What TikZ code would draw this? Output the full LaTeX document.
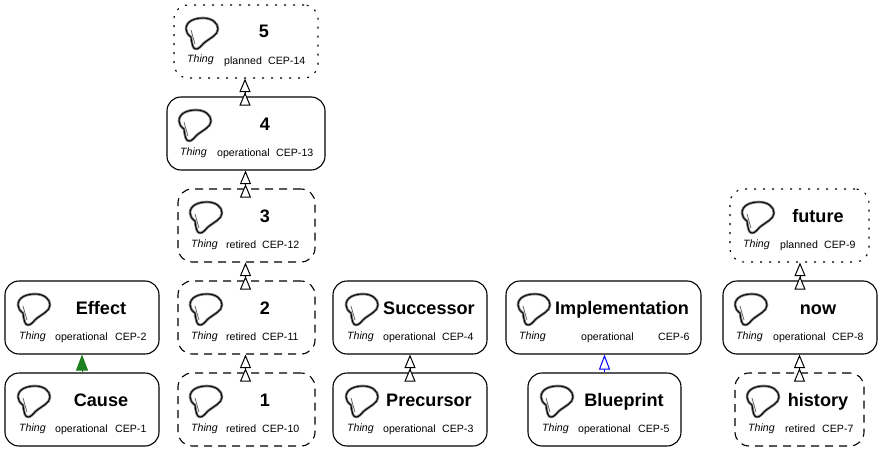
\documentclass[tikz,border=0pt]{standalone}
\usepackage{fontspec}
\setmainfont{Liberation Sans}
\usetikzlibrary{arrows.meta}
\definecolor{linkgreen}{RGB}{28,128,28}
\tikzset{
  cepbox/.style={draw=black,line width=1.1pt,rounded corners=14pt,inner sep=0pt,fill=none},
  solidbox/.style={cepbox},
  dashbox/.style={cepbox,dash pattern=on 8pt off 6pt},
  dotbox/.style={cepbox,dash pattern=on 2pt off 7pt},
  titletext/.style={inner sep=0pt,anchor=base,font=\fontsize{18.1}{20}\selectfont\bfseries},
  smalltext/.style={inner sep=0pt,anchor=base west,font=\fontsize{10.6}{12}\selectfont},
  kindtext/.style={smalltext,font=\fontsize{10.6}{12}\selectfont\itshape},
  bubble/.pic={
    \path[draw=black!50,line width=2.6pt,line join=round]
      (0,11) .. controls (0,3) and (9,0) .. (17,0) .. controls (26,0) and (32,5) .. (32,11)
      .. controls (32,17) and (24,20) .. (18,25) .. controls (15,28) and (13,31) .. (10,31)
      .. controls (7,31) and (6,27) .. (5,19) .. controls (2,17) and (0,14) .. (0,11) -- cycle;
    \path[draw=black,line width=.9pt,line join=round]
      (0,11) .. controls (0,3) and (9,0) .. (17,0) .. controls (26,0) and (32,5) .. (32,11)
      .. controls (32,17) and (24,20) .. (18,25) .. controls (15,28) and (13,31) .. (10,31)
      .. controls (7,31) and (6,27) .. (5,19) .. controls (2,17) and (0,14) .. (0,11) -- cycle;
    \path[draw=black!60,line width=.8pt] (5,12) -- (9,26);
  },
  plainlink/.style={draw=black,line width=.9pt,shorten <=-8pt,
    -{Triangle[open,fill=white,length=13.5pt,width=11pt,line width=1pt,sep=0pt]
      Triangle[open,fill=white,length=13.5pt,width=11pt,line width=1pt]}},
  bluelink/.style={draw=blue,line width=1pt,
    -{Triangle[open,fill=white,length=15pt,width=11pt,line width=1pt]}},
  greenlink/.style={draw=linkgreen,line width=1pt,
    -{Triangle[fill=linkgreen,color=linkgreen,length=16pt,width=12pt]}},
}
% name, left, right, top, style
\newcommand{\cepnode}[5]{%
  \node[#5,minimum width={(#3-#2)*1pt},minimum height=73pt] (#1) at ({(#2+#3)/2},{#4+36.5}) {};}
% name, top, title, titlex, iconx, status, statusx, cep, cepx
\newcommand{\ceptext}[9]{%
  \node[titletext] (#1t) at (#4,#2+33) {#3};
  \pic at (#5,#2+13) {bubble};
  \node[kindtext] (#1k) at (#5+1,#2+58) {Thing};
  \node[smalltext] (#1s) at (#7,#2+59) {#6};
  \node[smalltext] (#1c) at (#9,#2+59) {#8};}
\begin{document}
\begin{tikzpicture}[x=1pt,y=-1pt]
\useasboundingbox (0,0) rectangle (881,452);
\cepnode{effect}{5}{159}{281}{solidbox}
\cepnode{cause}{5}{159}{373}{solidbox}
\cepnode{one}{178}{315}{373}{dashbox}
\cepnode{two}{178}{315}{281}{dashbox}
\cepnode{three}{178}{315}{189}{dashbox}
\cepnode{four}{167}{325}{97}{solidbox}
\cepnode{five}{174}{318}{5}{dotbox}
\cepnode{succ}{333}{487}{281}{solidbox}
\cepnode{prec}{333}{487}{373}{solidbox}
\cepnode{impl}{506}{701}{281}{solidbox}
\cepnode{blue}{528}{681}{373}{solidbox}
\cepnode{now}{723}{877}{281}{solidbox}
\cepnode{future}{730}{869}{189}{dotbox}
\cepnode{history}{735}{864}{373}{dashbox}
\ceptext{effect}{281}{Effect}{101}{18}{operational}{55}{CEP-2}{115}
\ceptext{cause}{373}{Cause}{101}{18}{operational}{55}{CEP-1}{115}
\ceptext{one}{373}{1}{265}{190}{retired}{226}{CEP-10}{262}
\ceptext{two}{281}{2}{265}{190}{retired}{226}{CEP-11}{262}
\ceptext{three}{189}{3}{265}{190}{retired}{226}{CEP-12}{262}
\ceptext{four}{97}{4}{265}{179}{operational}{217}{CEP-13}{276}
\ceptext{five}{5}{5}{264}{186}{planned}{224}{CEP-14}{268}
\ceptext{succ}{281}{Successor}{429}{346}{operational}{383}{CEP-4}{442}
\ceptext{prec}{373}{Precursor}{429}{346}{operational}{383}{CEP-3}{442}
\ceptext{impl}{281}{Implementation}{622}{518}{operational}{581}{CEP-6}{658}
\ceptext{blue}{373}{Blueprint}{624}{541}{operational}{578}{CEP-5}{638}
\ceptext{now}{281}{now}{818}{735}{operational}{773}{CEP-8}{832}
\ceptext{future}{189}{future}{818}{742}{planned}{780}{CEP-9}{824}
\ceptext{history}{373}{history}{818}{747}{retired}{785}{CEP-7}{822}
\draw[greenlink] (cause.north) -- (effect.south);
\draw[bluelink] (blue.north) -- (blue.north |- impl.south);
\draw[plainlink] ([xshift=-1pt]one.north) -- ([xshift=-1pt]two.south);
\draw[plainlink] ([xshift=-1pt]two.north) -- ([xshift=-1pt]three.south);
\draw[plainlink] ([xshift=-1pt]three.north) -- ([xshift=-1pt]three.north |- four.south);
\draw[plainlink] ([xshift=-1pt]four.north) -- ([xshift=-1pt]five.south);
\draw[plainlink] (prec.north) -- (succ.south);
\draw[plainlink] (history.north) -- (history.north |- now.south);
\draw[plainlink] (now.north) -- (now.north |- future.south);
\end{tikzpicture}
\end{document}
